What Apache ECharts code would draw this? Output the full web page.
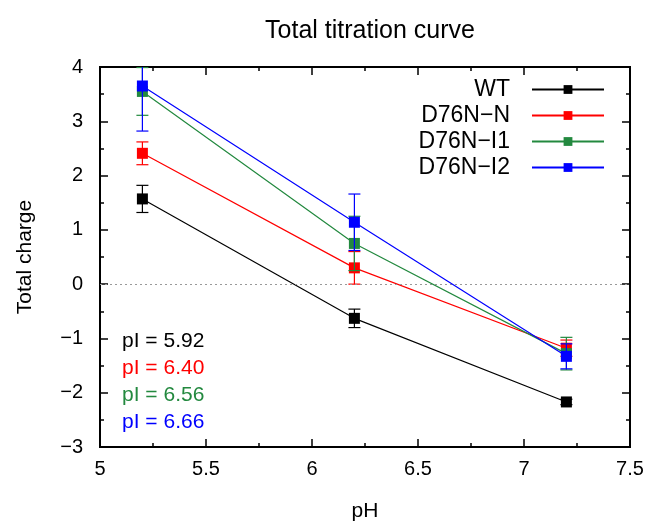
<!DOCTYPE html>
<html><head><meta charset="utf-8">
<script src="https://cdn.jsdelivr.net/npm/echarts@6/dist/echarts.min.js"></script>
<style>html,body{margin:0;padding:0;background:#fff}#c{width:656px;height:524px}</style>
</head><body><div id="c"></div>
<script>
const ph = [5.2, 6.2, 7.2];
const seriesNames = ['WT', 'D76N\u2212N', 'D76N\u2212I1', 'D76N\u2212I2'];
const wt = [1.57, -0.63, -2.17];
const wtErr = [0.25, 0.17, 0.05];
const d76nN = [2.41, 0.30, -1.18];
const d76nNErr = [0.21, 0.30, 0.15];
const d76nI1 = [3.55, 0.75, -1.28];
const d76nI1Err = [0.44, 0.50, 0.30];
const d76nI2 = [3.65, 1.14, -1.33];
const d76nI2Err = [0.83, 0.52, 0.23];
const pIlabels = ['pI = 5.92', 'pI = 6.40', 'pI = 6.56', 'pI = 6.66'];
const colors = ['#000000', '#ff0000', '#23893f', '#0000ff'];
const values = [wt, d76nN, d76nI1, d76nI2];
const errs = [wtErr, d76nNErr, d76nI1Err, d76nI2Err];

const FONT = 'Liberation Sans, Arial, Helvetica, sans-serif';
const chart = echarts.init(document.getElementById('c'));

const series = [];
values.forEach((vals, k) => {
  series.push({
    name: seriesNames[k], type: 'line',
    data: ph.map((x, i) => [x, vals[i]]),
    symbol: 'rect', symbolSize: 11,
    itemStyle: { color: colors[k] },
    lineStyle: { color: colors[k], width: 1.2 },
    z: 3 + k,
    markLine: k === 0 ? {
      silent: true, symbol: 'none', label: { show: false },
      lineStyle: { type: [2, 3], color: '#999', width: 1 },
      data: [{ yAxis: 0 }]
    } : undefined
  });
  series.push({
    name: seriesNames[k], type: 'custom',
    data: ph.map((x, i) => [x, vals[i] - errs[k][i], vals[i] + errs[k][i]]),
    clip: true, z: 3 + k,
    renderItem: function (params, api) {
      const lo = api.coord([api.value(0), api.value(1)]);
      const hi = api.coord([api.value(0), api.value(2)]);
      const w = 6;
      const st = { stroke: colors[k], lineWidth: 1.2 };
      return { type: 'group', children: [
        { type: 'line', shape: { x1: lo[0], y1: lo[1], x2: hi[0], y2: hi[1] }, style: st },
        { type: 'line', shape: { x1: lo[0] - w, y1: lo[1], x2: lo[0] + w, y2: lo[1] }, style: st },
        { type: 'line', shape: { x1: hi[0] - w, y1: hi[1], x2: hi[0] + w, y2: hi[1] }, style: st }
      ]};
    }
  });
});

const minus = v => String(v).replace('-', '\u2212');
const axisCommon = {
  axisLine: { show: true, onZero: false, lineStyle: { color: '#000', width: 2 } },
  axisTick: { show: true, inside: true, length: 8, lineStyle: { color: '#000', width: 1.5 } },
  minorTick: { show: true, splitNumber: 2, length: 4, lineStyle: { color: '#000', width: 1.5 } },
  splitLine: { show: false }
};

chart.setOption({
  animation: false,
  backgroundColor: '#fff',
  title: {
    text: 'Total titration curve', left: 365, top: 14, textAlign: 'center',
    textStyle: { fontFamily: FONT, fontSize: 25, fontWeight: 'normal', color: '#000' }
  },
  grid: { left: 100, right: 26, top: 67, bottom: 77, show: true, borderColor: '#000', borderWidth: 2,
          containLabel: false, outerBoundsMode: 'none' },
  legend: {
    data: seriesNames, orient: 'vertical', align: 'right',
    right: 46, top: 73, itemWidth: 72, itemHeight: 11, itemGap: 3,
    selectedMode: false,
    textStyle: { fontFamily: FONT, fontSize: 23, color: '#000', padding: [0, 17, 0, 0] }
  },
  xAxis: [
    Object.assign({}, axisCommon, {
      type: 'value', min: 5, max: 7.5, interval: 0.5,
      name: 'pH', nameLocation: 'middle', nameGap: 54,
      nameTextStyle: { fontFamily: FONT, fontSize: 21, color: '#000' },
      axisLabel: { fontFamily: FONT, fontSize: 20, color: '#000', margin: 12 }
    }),
    Object.assign({}, axisCommon, {
      type: 'value', min: 5, max: 7.5, interval: 0.5, position: 'top',
      axisLabel: { show: false }
    })
  ],
  yAxis: [
    Object.assign({}, axisCommon, {
      type: 'value', min: -3, max: 4, interval: 1,
      name: 'Total charge', nameLocation: 'middle', nameGap: 64,
      nameTextStyle: { fontFamily: FONT, fontSize: 21, color: '#000' },
      axisLabel: { fontFamily: FONT, fontSize: 20, color: '#000', margin: 17, formatter: minus }
    }),
    Object.assign({}, axisCommon, {
      type: 'value', min: -3, max: 4, interval: 1, position: 'right',
      axisLabel: { show: false }
    })
  ],
  graphic: pIlabels.map((t, k) => ({
    type: 'text', left: 122, top: 331 + k * 27,
    style: { text: t, fill: colors[k], font: '21px ' + FONT }
  })),
  series: series
});
</script></body></html>
